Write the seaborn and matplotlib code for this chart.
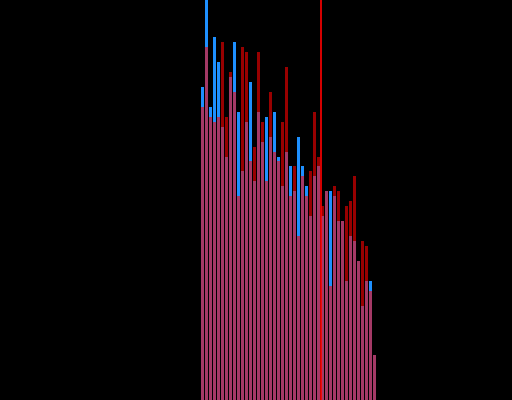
import matplotlib
matplotlib.use("Agg")
import matplotlib.pyplot as plt
import seaborn as sns
import pandas as pd

# bin index of each histogram bar
bins = list(range(44))
# counts of the first (blue) distribution
blue_counts = [63, 82, 59, 73, 68, 55, 49, 65, 72, 58, 46, 56, 64, 44, 58, 52,
               57, 53, 58, 49, 43, 50, 47, 42, 53, 47, 43, 37, 45, 47, 37, 42,
               42, 41, 36, 36, 24, 33, 32, 28, 19, 24, 24, 9]
# counts of the second (red) distribution
red_counts = [59, 71, 57, 56, 57, 72, 57, 66, 62, 41, 71, 70, 48, 51, 70, 56,
              44, 62, 50, 48, 56, 67, 41, 47, 33, 45, 41, 46, 58, 49, 39, 42,
              23, 43, 42, 36, 39, 40, 45, 28, 32, 31, 22, 9]
# position of the marker line (between bins)
marker_pos = 29.6

df = pd.DataFrame({"bin": bins, "blue": blue_counts, "red": red_counts})

fig = plt.figure(figsize=(5.12, 4.0), dpi=100, facecolor="black")
ax = fig.add_axes([0, 0, 1, 1])
ax.set_facecolor("black")

sns.barplot(data=df, x="bin", y="blue", color="#1E90FF", saturation=1,
            width=0.75, linewidth=0, errorbar=None, ax=ax)
sns.barplot(data=df, x="bin", y="red", color="#FF0000", alpha=0.6, saturation=1,
            width=0.75, linewidth=0, errorbar=None, ax=ax)
ax.axvline(marker_pos, color="#FF0000", linewidth=1.2)

ax.set_xlim(-50.625, 77.375)
ax.set_ylim(0, 80.5)
ax.axis("off")

fig.savefig("out.png", dpi=100, facecolor="black")
